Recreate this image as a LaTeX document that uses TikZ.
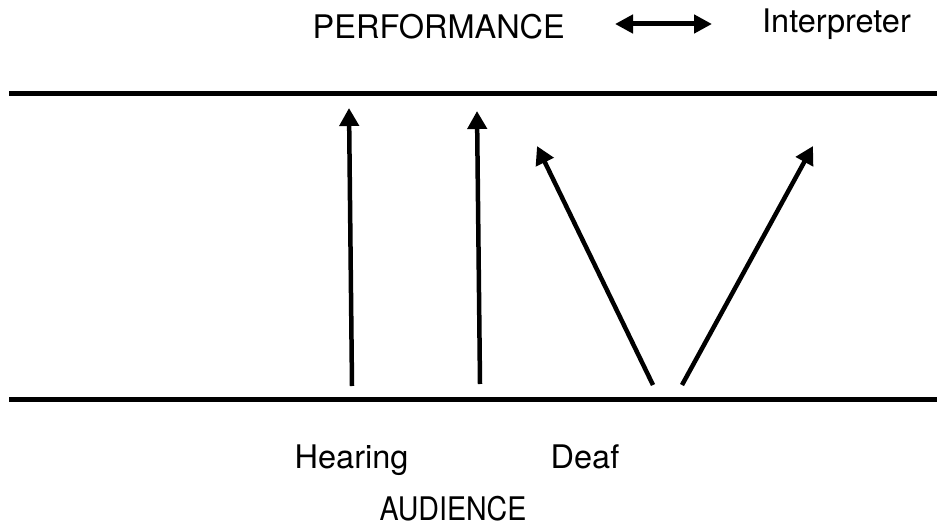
\documentclass[tikz,border=0pt]{standalone}
\usepackage{fontspec}
\setmainfont{TeX Gyre Heros}
\usetikzlibrary{arrows.meta}
\tikzset{
  rule/.style={line width=5pt},
  flow/.style={line width=4.5pt,-{Triangle[width=19pt,length=18pt]}},
  both/.style={line width=5pt,{Triangle[width=18pt,length=18pt]}-{Triangle[width=18pt,length=18pt]}},
  lbl/.style={inner sep=0pt,anchor=base west,font=\fontsize{32.5}{38}\selectfont},
}
\begin{document}
\begin{tikzpicture}[x=1pt,y=-1pt]
\useasboundingbox (0,0) rectangle (937,527);
% labels
\node[lbl] (perf) at (312.5,39) {PERFORMANCE};
\node[lbl] (interp) at (762,33) {Interpreter};
\node[lbl] (hear) at (294.5,468) {Hearing};
\node[lbl] (deaf) at (550.5,468) {Deaf};
\node[lbl,anchor=base] (aud) at (453,520) {\scalebox{0.88}[1]{AUDIENCE}};
% double arrow
\coordinate (dl) at (615,24);
\coordinate (dr) at (712,24);
\draw[both] (dl) -- (dr);
% horizontal rules
\coordinate (tl) at (9,93.5);
\coordinate (tr) at (937,93.5);
\coordinate (bl) at (9,399);
\coordinate (br) at (937,399);
\draw[rule] (tl) -- (tr);
\draw[rule] (bl) -- (br);
% arrows
\coordinate (a1s) at (352,386);
\coordinate (a1e) at (349,108);
\coordinate (a2s) at (480,384);
\coordinate (a2e) at (477,111);
\coordinate (a3s) at (653,385);
\coordinate (a3e) at (537,146);
\coordinate (a4s) at (682,385);
\coordinate (a4e) at (813,146);
\draw[flow] (a1s) -- (a1e);
\draw[flow] (a2s) -- (a2e);
\draw[flow] (a3s) -- (a3e);
\draw[flow] (a4s) -- (a4e);
\end{tikzpicture}
\end{document}
